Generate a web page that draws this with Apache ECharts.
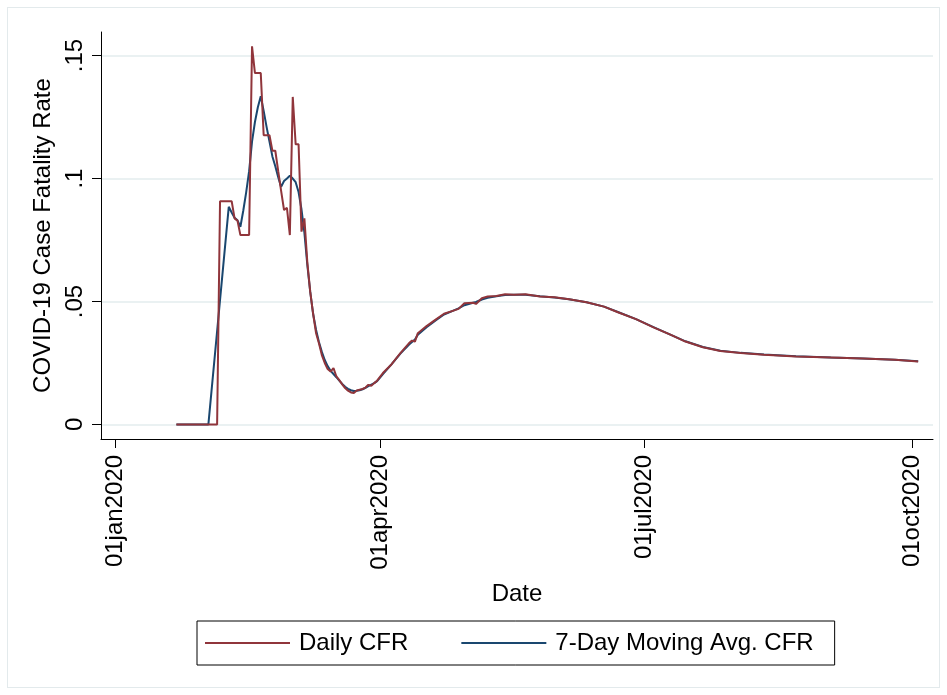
<!DOCTYPE html>
<html><head><meta charset="utf-8">
<script src="https://cdn.jsdelivr.net/npm/echarts@6/dist/echarts.min.js"></script>
<style>
html,body{margin:0;padding:0;background:#fff;}
#wrap{position:relative;width:947px;height:695px;}
#chart{position:absolute;left:0;top:0;width:947px;height:695px;}
#frame{position:absolute;left:7px;top:7px;width:931px;height:679px;border:1px solid #e3eaec;pointer-events:none;}
</style>
</head><body>
<div id="wrap"><div id="chart"></div><div id="frame"></div></div>
<script>
const dates = [
 '2020-01-22','2020-01-23','2020-01-24','2020-01-25','2020-01-26','2020-01-27','2020-01-28','2020-01-29','2020-01-30','2020-01-31',
 '2020-02-01','2020-02-02','2020-02-03','2020-02-04','2020-02-05','2020-02-06','2020-02-07','2020-02-08','2020-02-09','2020-02-10',
 '2020-02-11','2020-02-12','2020-02-13','2020-02-14','2020-02-15','2020-02-16','2020-02-17','2020-02-18','2020-02-19','2020-02-20',
 '2020-02-21','2020-02-22','2020-02-23','2020-02-24','2020-02-25','2020-02-26','2020-02-27','2020-02-28','2020-02-29',
 '2020-03-01','2020-03-02','2020-03-03','2020-03-04','2020-03-05','2020-03-06','2020-03-07','2020-03-08','2020-03-09','2020-03-10',
 '2020-03-11','2020-03-12','2020-03-13','2020-03-14','2020-03-15','2020-03-16','2020-03-17','2020-03-18','2020-03-19','2020-03-20',
 '2020-03-21','2020-03-22','2020-03-23','2020-03-24','2020-03-25','2020-03-26','2020-03-27','2020-03-28','2020-03-29','2020-03-30','2020-03-31',
 '2020-04-02','2020-04-05','2020-04-08','2020-04-11','2020-04-12','2020-04-13','2020-04-14','2020-04-17','2020-04-20','2020-04-23','2020-04-26','2020-04-28','2020-04-30',
 '2020-05-03','2020-05-04','2020-05-06','2020-05-08','2020-05-11','2020-05-14','2020-05-17','2020-05-21','2020-05-26','2020-05-31',
 '2020-06-05','2020-06-11','2020-06-17','2020-06-22','2020-06-28',
 '2020-07-04','2020-07-10','2020-07-15','2020-07-21','2020-07-27',
 '2020-08-03','2020-08-11','2020-08-22','2020-09-03','2020-09-14','2020-09-25','2020-10-03'
];
const dailyCFR = [
 0,0,0,0,0,0,0,0,0,0,
 0,0,0,0,0,0.0908,0.0908,0.0908,0.0908,0.0908,
 0.0838,0.0829,0.0770,0.0770,0.0770,0.0770,0.1538,0.1429,0.1429,0.1429,
 0.1176,0.1176,0.1176,0.1113,0.1113,0.1030,0.0950,0.0872,0.0881,
 0.0770,0.1332,0.1139,0.1139,0.0784,0.0838,0.0660,0.0540,0.0450,0.0372,
 0.0330,0.0282,0.0250,0.0225,0.0215,0.0229,0.0195,0.0180,0.0163,0.0148,
 0.0137,0.0130,0.0128,0.0138,0.0141,0.0144,0.0150,0.0161,0.0157,0.0168,0.0178,
 0.0209,0.0245,0.0290,0.0331,0.0341,0.0337,0.0371,0.0400,0.0425,0.0450,0.0462,0.0470,0.0493,
 0.0495,0.0490,0.0513,0.0520,0.0522,0.0529,0.0527,0.0529,0.0520,0.0517,
 0.0509,0.0497,0.0479,0.0455,0.0428,
 0.0395,0.0364,0.0337,0.0314,0.0299,
 0.0290,0.0283,0.0276,0.0272,0.0268,0.0263,0.0256
];
const avgCFR = [
 0,0,0,0,0,0,0,0,0,0,
 0,0,null,null,null,null,null,null,0.0885,0.0862,
 0.0840,0.0830,0.0804,0.0870,0.0945,0.1030,0.1150,0.1230,0.1290,0.1335,
 0.1275,0.1210,0.1150,0.1090,0.1050,0.1005,0.0966,0.0990,0.1000,
 0.1011,0.1000,0.0985,0.0945,0.0875,0.0780,0.0650,0.0540,0.0450,0.0385,
 0.0335,0.0295,0.0262,0.0237,0.0218,0.0205,0.0192,0.0178,0.0165,0.0153,
 0.0145,0.0139,0.0136,0.0137,0.0139,0.0143,0.0149,0.0156,0.0162,0.0168,0.0176,
 0.0205,0.0245,0.0288,0.0325,0.0335,0.0345,0.0365,0.0395,0.0422,0.0447,0.0462,0.0472,0.0485,
 0.0495,0.0498,0.0508,0.0515,0.0521,0.0526,0.0527,0.0527,0.0521,0.0516,
 0.0509,0.0497,0.0479,0.0456,0.0428,
 0.0396,0.0364,0.0338,0.0315,0.0300,
 0.0291,0.0284,0.0277,0.0272,0.0268,0.0263,0.0257
];
const xTickDates = ['2020-01-01','2020-04-01','2020-07-01','2020-10-01'];
const xTickLabels = ['01jan2020','01apr2020','01jul2020','01oct2020'];
const yTickValues = [0, 0.05, 0.1, 0.15];
const yTickLabels = ['0', '.05', '.1', '.15'];

function toTs(s){ const p = s.split('-').map(Number); return Date.UTC(p[0], p[1]-1, p[2]); }
const DAY = 86400000;
const xTicks = xTickDates.map(toTs);
const xMin = xTicks[0] - 4.92 * DAY;
const xMax = xTicks[0] + 281.1 * DAY;

const FONT = '"Liberation Sans", Arial, Helvetica, sans-serif';
const RED = '#90353b';
const BLUE = '#1a476f';

function nearestLabel(values, labels, v) {
  let best = 0, bd = Infinity;
  values.forEach((t, i) => { const d = Math.abs(t - v); if (d < bd) { bd = d; best = i; } });
  return labels[best];
}

const chart = echarts.init(document.getElementById('chart'), null, {renderer:'canvas'});
chart.setOption({
  animation: false,
  backgroundColor: '#ffffff',
  textStyle: { fontFamily: FONT },
  grid: { left: 101, right: 14, top: 32, bottom: 256, containLabel: false },
  xAxis: {
    type: 'value', min: xMin, max: xMax, scale: true,
    name: 'Date', nameLocation: 'middle', nameGap: 143,
    nameTextStyle: { fontSize: 24, color: '#000', fontFamily: FONT },
    axisLine: { show: true, onZero: false, lineStyle: { color: '#000', width: 1 } },
    axisTick: { show: true, length: 9, customValues: xTicks, lineStyle: { color: '#000', width: 1 } },
    axisLabel: {
      customValues: xTicks, rotate: 90, margin: 16, fontSize: 24, color: '#000', fontFamily: FONT,
      formatter: function (v) { return nearestLabel(xTicks, xTickLabels, v); }
    },
    splitLine: { show: false }
  },
  yAxis: {
    type: 'value', min: -0.00593, max: 0.1596,
    name: 'COVID-19 Case Fatality Rate', nameLocation: 'middle', nameGap: 38,
    nameTextStyle: { fontSize: 24, color: '#000', fontFamily: FONT },
    axisLine: { show: true, onZero: false, lineStyle: { color: '#000', width: 1 } },
    axisTick: { show: true, length: 9, customValues: yTickValues, lineStyle: { color: '#000', width: 1 } },
    axisLabel: {
      customValues: yTickValues, rotate: 90, margin: 14, fontSize: 24, color: '#000', fontFamily: FONT,
      formatter: function (v) { return nearestLabel(yTickValues, yTickLabels, v); }
    },
    splitLine: { show: true, lineStyle: { color: '#e3ecee', width: 1.5 } }
  },
  legend: {
    data: ['Daily CFR', '7-Day Moving Avg. CFR'],
    left: 197, top: 621,
    orient: 'horizontal',
    borderColor: '#000', borderWidth: 1,
    padding: [10, 21, 10, 8],
    itemGap: 53, itemWidth: 85, itemHeight: 2,
    icon: 'rect',
    textStyle: { fontSize: 24, color: '#000', fontFamily: FONT, padding: [0, 0, 0, 4] }
  },
  series: [
    {
      name: '7-Day Moving Avg. CFR', type: 'line', symbol: 'none', showSymbol: false,
      connectNulls: true, z: 2,
      data: dates.map((d, i) => [toTs(d), avgCFR[i]]),
      lineStyle: { color: BLUE, width: 2 }, itemStyle: { color: BLUE }
    },
    {
      name: 'Daily CFR', type: 'line', symbol: 'none', showSymbol: false,
      connectNulls: true, z: 3,
      data: dates.map((d, i) => [toTs(d), dailyCFR[i]]),
      lineStyle: { color: RED, width: 2 }, itemStyle: { color: RED }
    }
  ]
});
</script>
</body></html>
